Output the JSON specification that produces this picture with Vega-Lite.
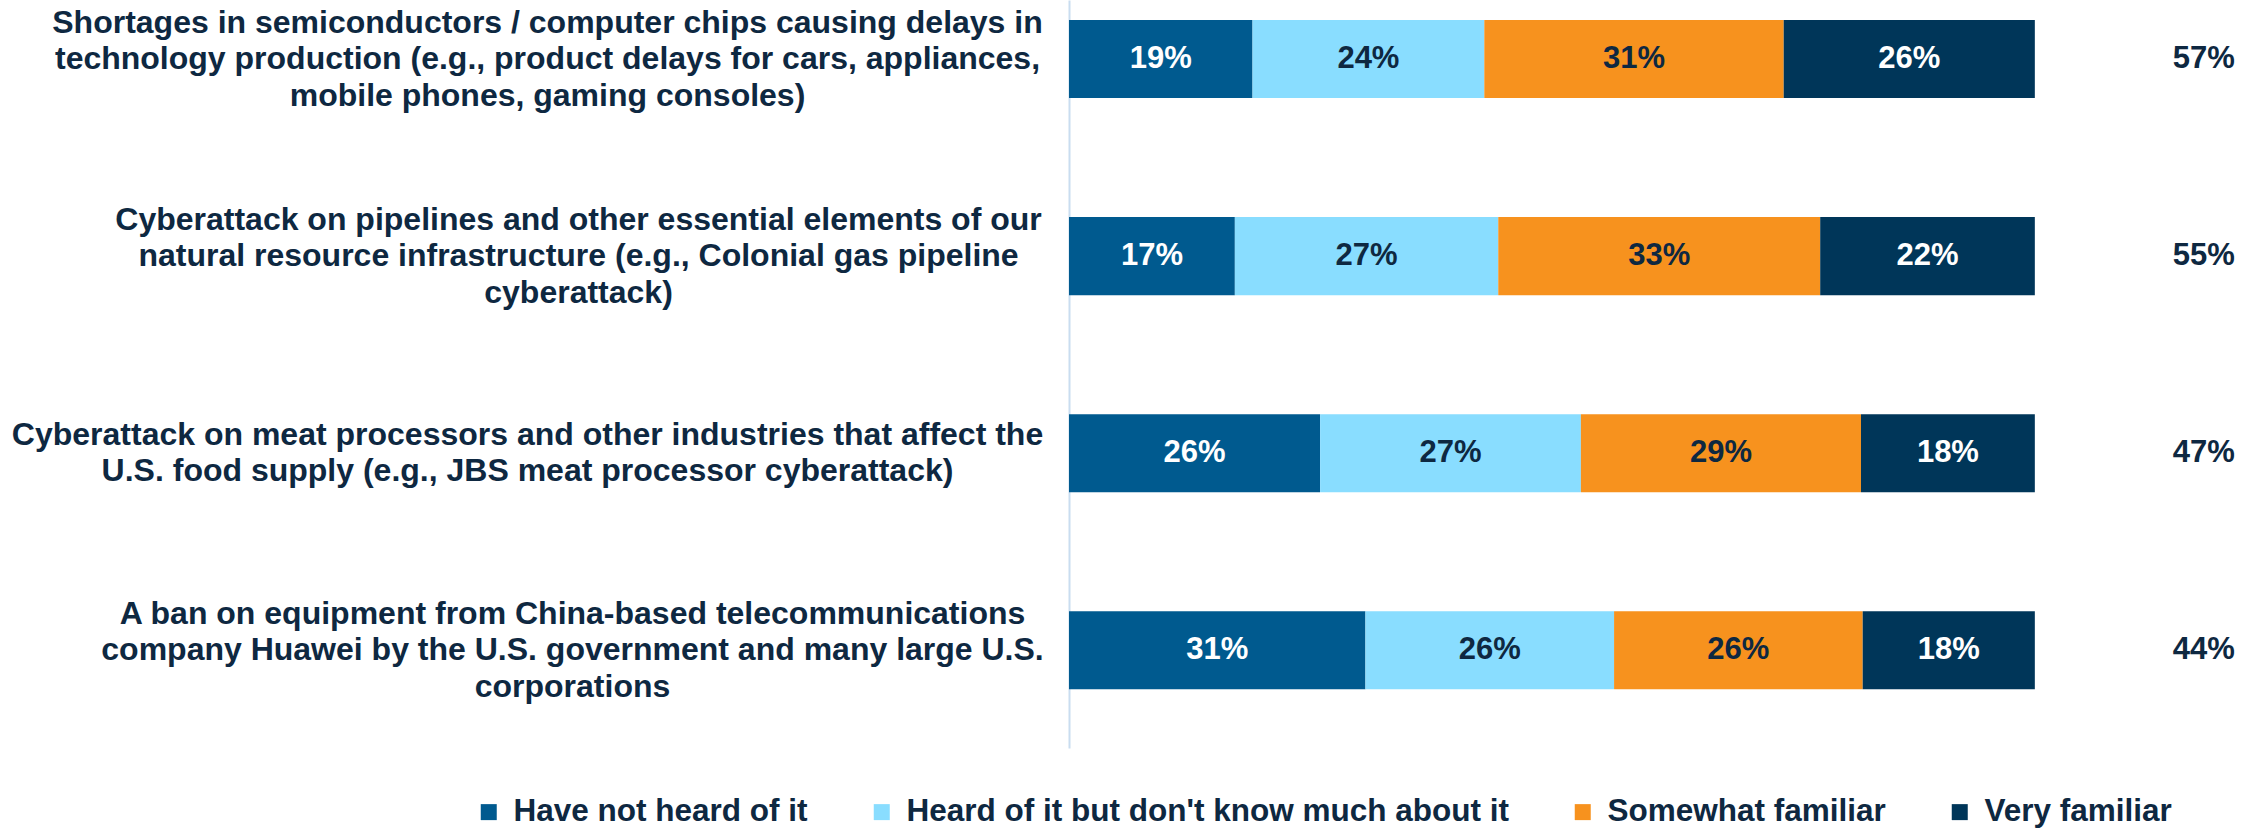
{
  "$schema": "https://vega.github.io/schema/vega-lite/v6.json",
  "autosize": {"type": "none"},
  "padding": {"left": 1069, "top": 0, "right": 28, "bottom": 81},
  "width": 1159,
  "height": 748,
  "background": "white",
  "config": {"view": {"stroke": null}, "font": "Liberation Sans"},
  "datasets": {
    "shares": [
      {"topic": "Shortages in semiconductors / computer chips causing delays in|technology production (e.g., product delays for cars, appliances,|mobile phones, gaming consoles)", "qorder": 1, "category": "Have not heard of it", "corder": 1, "pct": 0.19},
      {"topic": "Shortages in semiconductors / computer chips causing delays in|technology production (e.g., product delays for cars, appliances,|mobile phones, gaming consoles)", "qorder": 1, "category": "Heard of it but don't know much about it", "corder": 2, "pct": 0.24},
      {"topic": "Shortages in semiconductors / computer chips causing delays in|technology production (e.g., product delays for cars, appliances,|mobile phones, gaming consoles)", "qorder": 1, "category": "Somewhat familiar", "corder": 3, "pct": 0.31},
      {"topic": "Shortages in semiconductors / computer chips causing delays in|technology production (e.g., product delays for cars, appliances,|mobile phones, gaming consoles)", "qorder": 1, "category": "Very familiar", "corder": 4, "pct": 0.26},
      {"topic": "Cyberattack on pipelines and other essential elements of our|natural resource infrastructure (e.g., Colonial gas pipeline|cyberattack)", "qorder": 2, "category": "Have not heard of it", "corder": 1, "pct": 0.17},
      {"topic": "Cyberattack on pipelines and other essential elements of our|natural resource infrastructure (e.g., Colonial gas pipeline|cyberattack)", "qorder": 2, "category": "Heard of it but don't know much about it", "corder": 2, "pct": 0.27},
      {"topic": "Cyberattack on pipelines and other essential elements of our|natural resource infrastructure (e.g., Colonial gas pipeline|cyberattack)", "qorder": 2, "category": "Somewhat familiar", "corder": 3, "pct": 0.33},
      {"topic": "Cyberattack on pipelines and other essential elements of our|natural resource infrastructure (e.g., Colonial gas pipeline|cyberattack)", "qorder": 2, "category": "Very familiar", "corder": 4, "pct": 0.22},
      {"topic": "Cyberattack on meat processors and other industries that affect the|U.S. food supply (e.g., JBS meat processor cyberattack)", "qorder": 3, "category": "Have not heard of it", "corder": 1, "pct": 0.26},
      {"topic": "Cyberattack on meat processors and other industries that affect the|U.S. food supply (e.g., JBS meat processor cyberattack)", "qorder": 3, "category": "Heard of it but don't know much about it", "corder": 2, "pct": 0.27},
      {"topic": "Cyberattack on meat processors and other industries that affect the|U.S. food supply (e.g., JBS meat processor cyberattack)", "qorder": 3, "category": "Somewhat familiar", "corder": 3, "pct": 0.29},
      {"topic": "Cyberattack on meat processors and other industries that affect the|U.S. food supply (e.g., JBS meat processor cyberattack)", "qorder": 3, "category": "Very familiar", "corder": 4, "pct": 0.18},
      {"topic": "A ban on equipment from China-based telecommunications|company Huawei by the U.S. government and many large U.S.|corporations", "qorder": 4, "category": "Have not heard of it", "corder": 1, "pct": 0.31},
      {"topic": "A ban on equipment from China-based telecommunications|company Huawei by the U.S. government and many large U.S.|corporations", "qorder": 4, "category": "Heard of it but don't know much about it", "corder": 2, "pct": 0.26},
      {"topic": "A ban on equipment from China-based telecommunications|company Huawei by the U.S. government and many large U.S.|corporations", "qorder": 4, "category": "Somewhat familiar", "corder": 3, "pct": 0.26},
      {"topic": "A ban on equipment from China-based telecommunications|company Huawei by the U.S. government and many large U.S.|corporations", "qorder": 4, "category": "Very familiar", "corder": 4, "pct": 0.18}
    ],
    "totals": [
      {"topic": "Shortages in semiconductors / computer chips causing delays in|technology production (e.g., product delays for cars, appliances,|mobile phones, gaming consoles)", "qorder": 1, "total": 0.57},
      {"topic": "Cyberattack on pipelines and other essential elements of our|natural resource infrastructure (e.g., Colonial gas pipeline|cyberattack)", "qorder": 2, "total": 0.55},
      {"topic": "Cyberattack on meat processors and other industries that affect the|U.S. food supply (e.g., JBS meat processor cyberattack)", "qorder": 3, "total": 0.47},
      {"topic": "A ban on equipment from China-based telecommunications|company Huawei by the U.S. government and many large U.S.|corporations", "qorder": 4, "total": 0.44}
    ]
  },
  "encoding": {
    "y": {
      "field": "topic",
      "type": "nominal",
      "sort": {"field": "qorder", "op": "min"},
      "scale": {"paddingInner": 0.604, "paddingOuter": 0.1995, "align": 0.254},
      "axis": {
        "title": null,
        "domain": true,
        "domainColor": "#C9DDF0",
        "domainWidth": 2,
        "ticks": false,
        "tickSize": 0,
        "grid": false,
        "labelPadding": {
          "condition": [
            {"test": "indexof(datum.value, 'Shortages') === 0", "value": 522},
            {"test": "indexof(datum.value, 'Cyberattack on pipelines') === 0", "value": 491},
            {"test": "indexof(datum.value, 'Cyberattack on meat') === 0", "value": 542}
          ],
          "value": 497
        },
        "labelOffset": {
          "condition": {"test": "length(split(datum.value, '|')) === 2", "value": -18.25},
          "value": -36.5
        },
        "labelAlign": "center",
        "labelBaseline": "middle",
        "labelFont": "Liberation Sans",
        "labelFontSize": 32,
        "labelFontWeight": "bold",
        "labelColor": "#0E2841",
        "labelLimit": 1200,
        "labelLineHeight": 36.5,
        "labelExpr": "split(datum.label, '|')"
      }
    }
  },
  "layer": [
    {
      "data": {"name": "shares"},
      "mark": {"type": "bar"},
      "encoding": {
        "x": {"field": "pct", "type": "quantitative", "stack": "normalize", "scale": {"domain": [0, 1.2], "nice": false, "zero": true}, "axis": null},
        "color": {
          "field": "category",
          "type": "nominal",
          "scale": {
            "domain": ["Have not heard of it", "Heard of it but don't know much about it", "Somewhat familiar", "Very familiar"],
            "range": ["#005A8F", "#89DDFF", "#F7921E", "#003659"]
          },
          "legend": {
            "orient": "none",
            "legendX": -596,
            "legendY": 796,
            "direction": "horizontal",
            "title": null,
            "symbolType": "square",
            "symbolSize": 256,
            "symbolStrokeWidth": 0,
            "labelFont": "Liberation Sans",
            "labelFontSize": 31.5,
            "labelFontWeight": "bold",
            "labelColor": "#0E2841",
            "labelOffset": 9,
            "labelLimit": 1000,
            "columnPadding": 58
          }
        },
        "order": {"field": "corder", "type": "quantitative"}
      }
    },
    {
      "data": {"name": "shares"},
      "mark": {"type": "text", "font": "Liberation Sans", "fontSize": 31, "fontWeight": "bold", "baseline": "middle", "align": "center"},
      "encoding": {
        "x": {"field": "pct", "type": "quantitative", "stack": "normalize", "bandPosition": 0.5},
        "text": {"field": "pct", "type": "quantitative", "format": ".0%"},
        "order": {"field": "corder", "type": "quantitative"},
        "color": {
          "condition": {"test": "datum.category === 'Have not heard of it' || datum.category === 'Very familiar'", "value": "#FFFFFF"},
          "value": "#0E2841"
        }
      }
    },
    {
      "data": {"name": "totals"},
      "mark": {"type": "text", "font": "Liberation Sans", "fontSize": 31, "fontWeight": "bold", "baseline": "middle", "align": "center", "color": "#0E2841"},
      "encoding": {
        "x": {"datum": 1.175, "type": "quantitative"},
        "text": {"field": "total", "type": "quantitative", "format": ".0%"}
      }
    }
  ]
}
